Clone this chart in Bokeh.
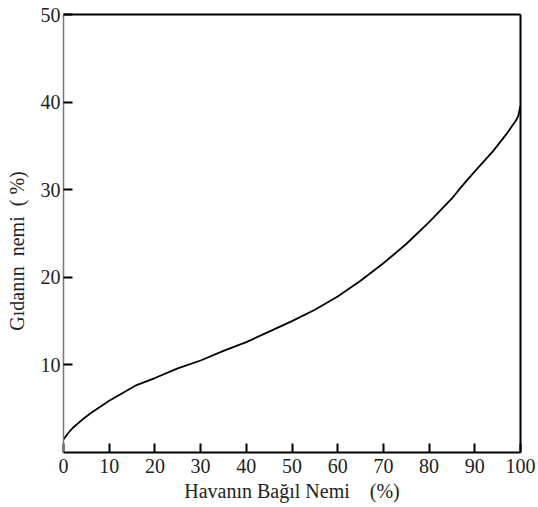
from bokeh.plotting import figure
from bokeh.models import LinearAxis, FixedTicker, Range1d
from bokeh.embed import file_html
from bokeh.resources import INLINE

# Data
rh = [0, 1, 2, 4, 6, 10, 16, 20, 25, 30, 35, 40, 45, 50, 55, 60, 65, 70, 75, 80, 85, 87, 90, 94, 97, 99, 99.5, 100]
moisture = [1.5, 2.2, 2.8, 3.7, 4.5, 5.9, 7.7, 8.5, 9.6, 10.5, 11.6, 12.6, 13.8, 15.0, 16.3, 17.8, 19.6, 21.6,
            23.8, 26.3, 29.0, 30.3, 32.1, 34.4, 36.4, 37.9, 38.4, 39.6]
x_ticks = [0, 10, 20, 30, 40, 50, 60, 70, 80, 90, 100]
y_ticks = [10, 20, 30, 40, 50]
x_label = "Havanın Bağıl Nemi\u00a0\u00a0\u00a0\u00a0(%)"
y_label = "Gıdanın\u00a0\u00a0nemi\u00a0\u00a0(\u00a0%)" + "\u00a0" * 7

FONT = "Liberation Serif"
TXT = "#222222"

p = figure(width=538, height=507, output_backend="svg", toolbar_location=None,
           x_range=Range1d(0, 100), y_range=Range1d(0, 50),
           min_border_left=63, min_border_right=18, min_border_top=14, min_border_bottom=55,
           x_axis_location=None, y_axis_location=None)
p.grid.visible = False
p.outline_line_color = None
p.background_fill_color = "white"
p.border_fill_color = "white"

xa = LinearAxis(ticker=FixedTicker(ticks=x_ticks), axis_label=x_label)
ya = LinearAxis(ticker=FixedTicker(ticks=y_ticks), axis_label=y_label)
for ax in (xa, ya):
    ax.minor_tick_line_color = None
    ax.major_tick_out = 0
    ax.major_tick_in = 9
    ax.major_tick_line_width = 2
    ax.major_tick_line_color = "black"
    ax.major_label_text_font = FONT
    ax.major_label_text_font_size = "20px"
    ax.major_label_text_color = TXT
    ax.axis_label_text_font = FONT
    ax.axis_label_text_font_size = "20px"
    ax.axis_label_text_font_style = "normal"
    ax.axis_label_text_color = TXT
xa.axis_line_color = "black"
xa.axis_line_width = 2
xa.major_label_standoff = 6
xa.axis_label_standoff = 4
ya.axis_line_color = "#777777"
ya.axis_line_width = 1.5
ya.major_label_standoff = 3
ya.axis_label_standoff = 10
p.add_layout(xa, "below")
p.add_layout(ya, "left")

for loc in ("above", "right"):
    ax = LinearAxis(ticker=FixedTicker(ticks=[]), axis_line_color="black", axis_line_width=2,
                    major_tick_line_color=None, minor_tick_line_color=None,
                    major_label_text_font_size="0px")
    p.add_layout(ax, loc)

p.line(rh, moisture, line_color="black", line_width=1.8)

open("out.html", "w").write(file_html(p, INLINE))
